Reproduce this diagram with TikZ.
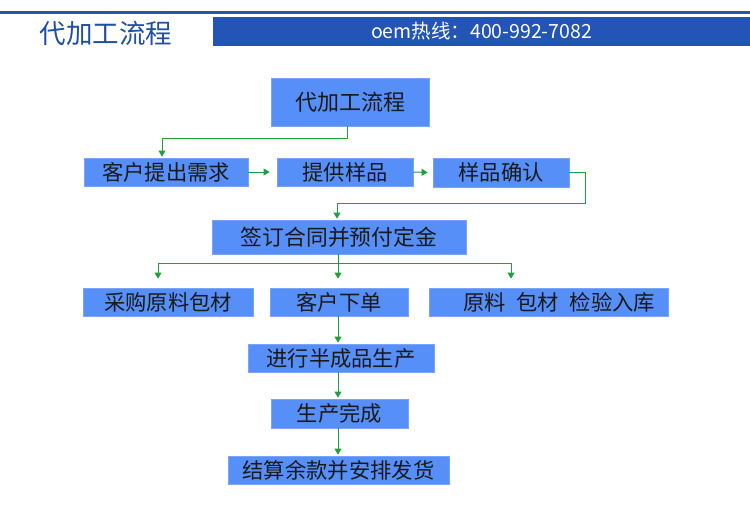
\documentclass[tikz,border=0pt]{standalone}
\usepackage{fontspec}
\setmainfont{Noto Sans CJK SC}
\usetikzlibrary{arrows.meta}
\definecolor{boxblue}{RGB}{86,143,248}
\definecolor{boxedge}{RGB}{120,165,250}
\definecolor{hdrblue}{RGB}{34,85,181}
\definecolor{titleblue}{RGB}{31,79,160}
\definecolor{conn}{RGB}{30,160,60}
\tikzset{
  box/.style={fill=boxblue, draw=boxedge, line width=0.8pt, inner sep=0pt, font=\fontsize{21.3}{21.3}\selectfont, text=black!90},
  conn/.style={draw=conn, line width=1pt},
  arr/.style={conn, -{Triangle[width=7pt,length=6pt]}, shorten >=1pt}
}
\begin{document}
\begin{tikzpicture}[x=1pt,y=1pt]
\useasboundingbox (0,0) rectangle (750,-523);
\fill[white] (0,0) rectangle (750,-523);
% header
\fill[hdrblue] (0,-10.5) rectangle (750,-13.5);
\node[fill=hdrblue, minimum width=537pt, minimum height=29pt, inner sep=0pt, text=white, font=\fontsize{19.5}{19.5}\selectfont] (hdr) at (481.5,-31.5) {oem热线：400-992-7082};
\node[text=titleblue, font=\fontsize{26.5}{26.5}\selectfont, inner sep=0pt] (title) at (106,-33) {代加工流程};
% boxes
\node[box, minimum width=158pt, minimum height=48pt, font=\fontsize{22}{22}\selectfont] (main) at (350,-102) {代加工流程};
\node[box, minimum width=164pt, minimum height=28pt] (a1) at (166,-172) {客户提出需求};
\node[box, minimum width=136pt, minimum height=28pt] (a2) at (345,-172) {提供样品};
\node[box, minimum width=136pt, minimum height=29pt] (a3) at (501,-172.5) {样品确认};
\node[box, minimum width=254pt, minimum height=34pt, font=\fontsize{21.8}{21.8}\selectfont] (b) at (339,-237) {签订合同并预付定金};
\node[box, minimum width=170pt, minimum height=28pt] (c1) at (168,-302) {采购原料包材};
\node[box, minimum width=138pt, minimum height=28pt] (c2) at (339,-302) {客户下单};
\node[box, minimum width=239pt, minimum height=28pt, text width=239pt, align=right] (c3) at (548.5,-302) {原料\enspace 包材\enspace 检验入库\hspace*{13pt}};
\node[box, minimum width=186pt, minimum height=28pt] (d) at (341,-358) {进行半成品生产};
\node[box, minimum width=137pt, minimum height=29pt] (e) at (339.5,-413.5) {生产完成};
\node[box, minimum width=221pt, minimum height=28pt] (f) at (338.5,-470) {结算余款并安排发货};
% connectors
\coordinate (m1) at (347,-138);
\coordinate (m2) at (162,-138);
\draw[arr] (main.south -| m1) -- (m1) -- (m2) -- (m2 |- a1.north);
\draw[arr] (a1.east) -- ([xshift=-6pt]a2.west);
\draw[arr] (a2.east) -- ([xshift=-4pt]a3.west);
\coordinate (r1) at (585,-172.5);
\coordinate (r2) at (585,-203);
\coordinate (r3) at (337,-203);
\draw[arr] (a3.east) -- (r1) -- (r2) -- (r3) -- (r3 |- b.north);
\coordinate (s0) at (338,-263);
\coordinate (sl) at (158,-263);
\coordinate (sr) at (511,-263);
\draw[conn] (b.south -| s0) -- (s0);
\draw[conn] (sl) -- (sr);
\draw[arr] (sl) -- ([yshift=8pt]sl |- c1.north);
\draw[arr] (s0) -- ([yshift=8pt]s0 |- c2.north);
\draw[arr] (sr) -- ([yshift=8pt]sr |- c3.north);
\draw[arr] (c2.south -| s0) -- (s0 |- d.north);
\draw[arr] (d.south -| s0) -- (s0 |- e.north);
\draw[arr] (e.south -| s0) -- (s0 |- f.north);
\end{tikzpicture}
\end{document}
